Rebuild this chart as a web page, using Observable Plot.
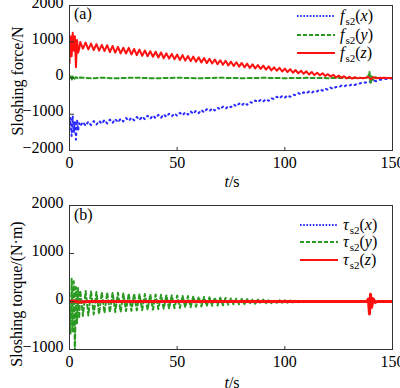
<!DOCTYPE html>
<html><head><meta charset="utf-8">
<script src="https://cdn.jsdelivr.net/npm/d3@7"></script>
<script src="https://cdn.jsdelivr.net/npm/@observablehq/plot@0.6"></script>
<style>
body{margin:0;background:#fff;}
#chart{position:relative;width:400px;height:388px;}
#chart svg{display:block;}
#chart svg, #chart svg text{font-family:"Liberation Serif","Times New Roman","DejaVu Serif",serif !important;}
</style></head><body><div id="chart"></div>
<script>
// ---- ticks ----
const xTicks = [0, 50, 100, 150];
const yTicksA = [-2000, -1000, 0, 1000, 2000];
const yTicksB = [-1000, 0, 1000, 2000];
const components = ["x", "y", "z"];
const symA = "f", symB = "τ", subLabel = "s2";
const yLabelA = "Sloshing force/N", yLabelB = "Sloshing torque/(N·m)";
const panelLabels = ["(a)", "(b)"];

// sampling grid: early values every 0.5 s from t=0, main values every 1.25 s from t=5
const earlyStep = 0.5, mainStart = 5, mainStep = 1.25;

// ---- panel (a): f_s2(z) (red) ----
const fzEarly = [400, 1150, 600, 1250, 750, 1150, 300, 1050, 700, 800];
const fzMain = [
  990, 810, 975, 790, 950, 770, 935, 755,
  915, 740, 905, 715, 885, 700, 860, 680,
  835, 675, 830, 650, 800, 630, 785, 610,
  760, 600, 740, 585, 725, 565, 705, 545,
  680, 535, 665, 515, 645, 495, 630, 480,
  605, 465, 590, 450, 570, 430, 550, 410,
  530, 400, 510, 380, 490, 365, 475, 345,
  450, 330, 435, 315, 415, 295, 395, 280,
  375, 265, 355, 250, 340, 230, 320, 210,
  295, 200, 280, 180, 260, 165, 245, 145,
  220, 130, 200, 115, 185, 95, 165, 80,
  145, 75, 130, 55, 105, 40, 90, 15,
  65, 5, 50, -10, 30, -15, 20, -10,
  10, -5, 8, 30, -35, 20, -10, 5, 0, 5, 0, 3, 2
];
// ---- panel (a): f_s2(x) (blue) ----
const fxEarly = [-1400, -1100, -1600, -1050, -1500, -1200, -1700, -1150, -1450, -1250];
const fxMain = [
  -1330, -1210, -1320, -1200, -1300, -1190, -1290, -1180,
  -1265, -1155, -1255, -1145, -1240, -1130, -1225, -1120,
  -1200, -1100, -1185, -1090, -1170, -1075, -1160, -1060,
  -1140, -1040, -1125, -1030, -1110, -1015, -1100, -1000,
  -1075, -985, -1060, -975, -1045, -960, -1030, -945,
  -1010, -920, -990, -900, -970, -880, -950, -860,
  -915, -835, -895, -815, -870, -790, -850, -770,
  -805, -725, -785, -705, -760, -680, -740, -660,
  -690, -620, -670, -600, -650, -580, -630, -555,
  -585, -515, -565, -495, -545, -475, -520, -455,
  -475, -415, -455, -395, -430, -370, -410, -350,
  -370, -310, -350, -290, -325, -265, -305, -245,
  -260, -210, -240, -190, -215, -165, -195, -145,
  -150, -110, -130, -90, -110, -70, -90, -45,
  -50, -20, -30, -10, -15
];
// ---- panel (a): f_s2(y) (green), [t, value] ----
const fyPairs = [
  [0, 0], [0.5, 50], [1, -60], [1.5, 40], [2, -40], [3, 25], [4, -20], [5, 15],
  [10, -10], [15, 10], [20, -10], [30, 8], [40, -8], [50, 8], [60, -6], [70, 6],
  [80, -5], [90, 5], [100, -5], [110, 4], [120, -4], [130, 3], [138, 0],
  [138.8, 60], [139.3, 170], [139.8, -140], [140.3, 80], [141, -60], [142, 20], [143, 0], [150, 0]
];

// ---- panel (b): tau_s2(y) (green) ----
const tyEarly = [0, -680, 480, -620, 420, -1100, 300, -450, 280, -350];
const tyMain = [
  230, -300, 220, -290, 210, -270, 200, -260,
  195, -240, 190, -230, 185, -220, 180, -215,
  175, -200, 170, -195, 165, -185, 160, -180,
  155, -175, 150, -170, 145, -160, 140, -155,
  135, -150, 130, -140, 125, -135, 120, -125,
  115, -120, 110, -110, 100, -105, 95, -95,
  90, -90, 85, -85, 80, -80, 75, -70,
  70, -65, 65, -60, 55, -55, 50, -50,
  45, -45, 40, -40, 40, -35, 35, -35,
  30, -30, 30, -25, 25, -25, 20, -20,
  15, -15, 10, -10, 10, -10, 5, -5,
  5, -5, 4, -4, 3, -3, 3, -3, 2, -2, 2, -2, 2, -2, 1, -1, 1, -1,
  0, 0, 0, 0, 0, 0, 0, 0, 0, 0, 0
];
// ---- panel (b): tau_s2(x) (blue) and tau_s2(z) (red), [t, value] ----
const txPairs = [[0, 0], [1, 30], [2, -30], [3, 20], [5, 0], [120, 0], [125, 8], [130, 0], [150, 0]];
const tzPairs = [
  [0, 0], [2, 10], [4, -10], [10, 0], [50, 0], [100, 0], [138, 0],
  [138.8, 50], [139.3, -260], [139.8, 150], [140.3, -120], [141, 60], [142, -20], [143, 0], [150, 0]
];

// ---- styles ----
const colors = {x: "#2b2bff", y: "#2a9a22", z: "#ff1010"};
const dashes = {x: "1.6,1.6", y: "4,2", z: null};       // legend samples
const lineDashes = {x: "1.5,4", y: "4,3", z: null};     // data lines (zig-zag paths)
const widths = {x: 2, y: 2, z: 2};

function build(early, main) {
  const out = [];
  early.forEach((v, i) => out.push({t: i * earlyStep, v}));
  main.forEach((v, i) => out.push({t: mainStart + i * mainStep, v}));
  return out;
}
const fromPairs = p => p.map(([t, v]) => ({t, v}));
const fmt = d => (d < 0 ? "\u2212" + Math.abs(d) : String(d));

const font = "'Liberation Serif','Times New Roman',serif";

function panel({height, marginTop, marginBottom, yDomain, yTicks, series}) {
  return Plot.plot({
    width: 400, height, marginLeft: 69, marginRight: 8, marginTop, marginBottom,
    style: {fontFamily: font, fontSize: "16px", color: "#000", background: "#fff", overflow: "visible"},
    x: {domain: [0, 150]},
    y: {domain: yDomain},
    marks: [
      ...series.map(s => Plot.line(s.data, {x: "t", y: "v", stroke: colors[s.k], strokeWidth: s.w ?? widths[s.k], strokeDasharray: lineDashes[s.k], clip: true})),
      Plot.axisX(xTicks, {tickSize: 0, tickPadding: 6, tickFormat: fmt, label: null}),
      Plot.axisX(xTicks, {anchor: "top", frameAnchor: "bottom", tickSize: 4, text: null, label: null, stroke: "#333"}),
      Plot.axisY(yTicks, {tickSize: 0, tickPadding: 6, tickFormat: fmt, dy: -3, label: null}),
      Plot.axisY(yTicks, {anchor: "right", frameAnchor: "left", tickSize: 4, text: null, label: null, stroke: "#333"}),
      Plot.frame({stroke: "#333"})
    ]
  });
}

function decorate(svg, o) {
  const s = d3.select(svg);
  // legend
  components.forEach((k, i) => {
    const y = o.legY[i];
    s.append("line").attr("x1", o.legX0).attr("x2", o.legX1).attr("y1", y).attr("y2", y)
      .attr("stroke", colors[k]).attr("stroke-width", widths[k]).attr("stroke-dasharray", dashes[k]);
    const t = s.append("text").attr("x", o.legTx).attr("y", y + 5).attr("text-anchor", "start").style("font-size", "16px");
    t.append("tspan").attr("font-style", "italic").text(o.sym);
    t.append("tspan").attr("font-size", "11px").attr("dx", 1).attr("dy", 4).text(subLabel);
    t.append("tspan").attr("dy", -4).text("(");
    t.append("tspan").attr("font-style", "italic").text(k);
    t.append("tspan").text(")");
  });
  // panel label
  s.append("text").attr("x", o.plX).attr("y", o.plY).attr("text-anchor", "start").style("font-size", "16px").text(o.panel);
  // x label
  const xl = s.append("text").attr("x", o.xlX).attr("y", o.xlY).attr("text-anchor", "middle").style("font-size", "16px");
  xl.append("tspan").attr("font-style", "italic").text("t");
  xl.append("tspan").text("/s");
  // y label
  s.append("text").attr("transform", `translate(${o.ylX},${o.ylY}) rotate(-90)`)
    .attr("text-anchor", "middle").attr("dy", "0.35em").style("font-size", "16px").text(o.yLabel);
}

const plotA = panel({
  height: 190, marginTop: 5, marginBottom: 40, yDomain: [-2000, 2000], yTicks: yTicksA,
  series: [
    {k: "x", data: build(fxEarly, fxMain)},
    {k: "y", data: fromPairs(fyPairs)},
    {k: "z", data: build(fzEarly, fzMain)}
  ]
});
decorate(plotA, {sym: symA, legY: [16, 35, 53], legX0: 297, legX1: 335, legTx: 340,
  panel: panelLabels[0], plX: 74, plY: 19, xlX: 232, xlY: 187, ylX: 17, ylY: 81, yLabel: yLabelA});

const plotB = panel({
  height: 198, marginTop: 15, marginBottom: 39, yDomain: [-1000, 2000], yTicks: yTicksB,
  series: [
    {k: "x", data: fromPairs(txPairs)},
    {k: "y", data: build(tyEarly, tyMain)},
    {k: "z", data: fromPairs(tzPairs), w: 3}
  ]
});
decorate(plotB, {sym: symB, legY: [35, 52, 70], legX0: 300, legX1: 338, legTx: 343,
  panel: panelLabels[1], plX: 74, plY: 30, xlX: 232, xlY: 198, ylX: 16, ylY: 104, yLabel: yLabelB});

const root = document.getElementById("chart");
root.append(plotA, plotB);
</script></body></html>
